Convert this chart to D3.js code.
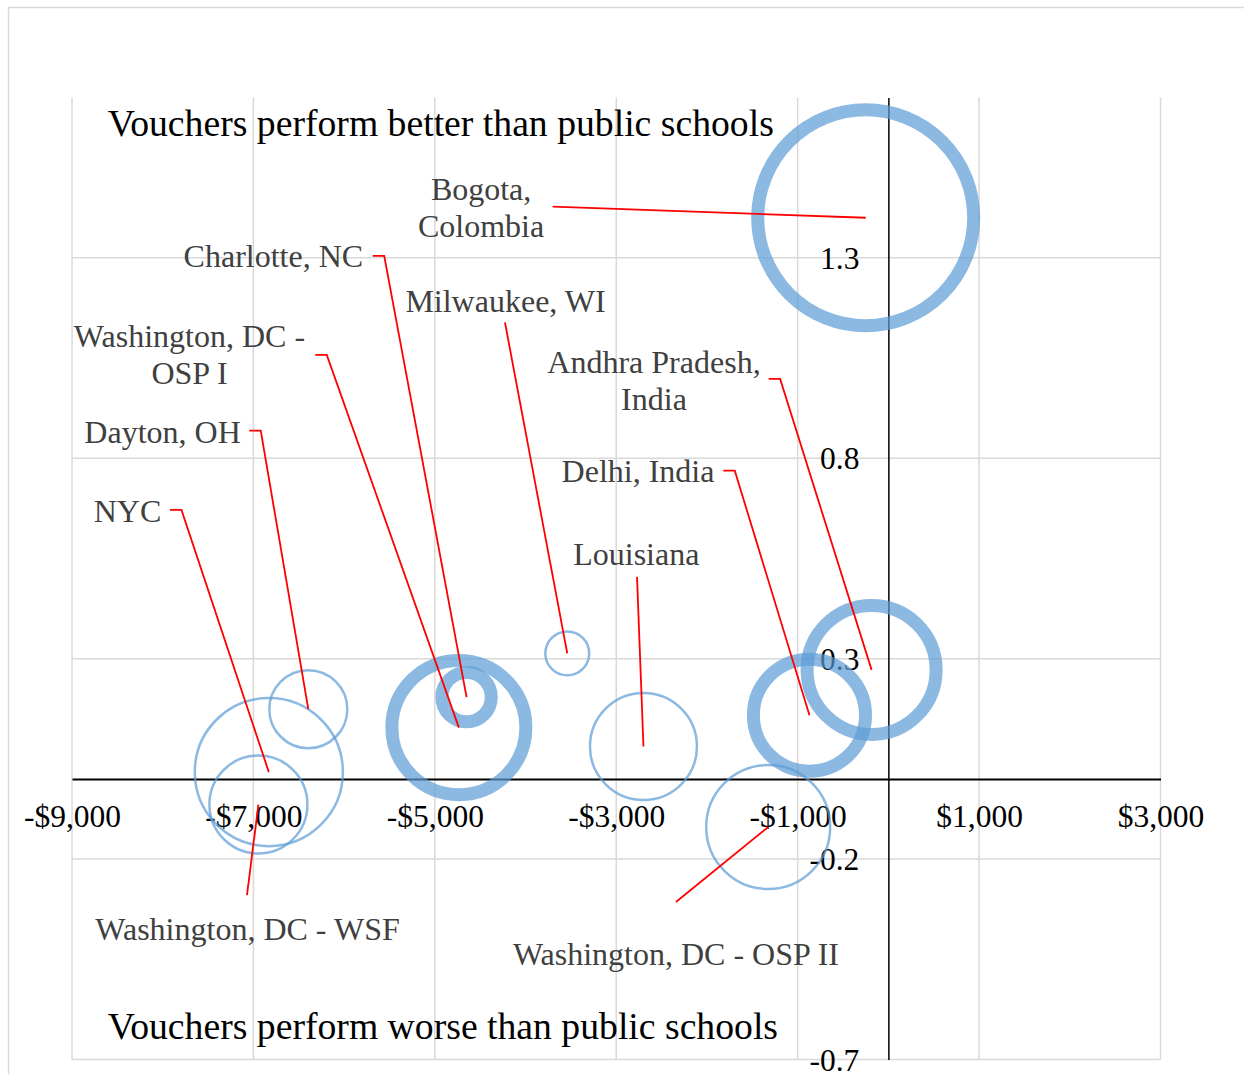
<!DOCTYPE html>
<html>
<head>
<meta charset="utf-8">
<script src="https://cdn.jsdelivr.net/npm/d3@7"></script>
<style>
body { margin: 0; background: #fff; }
</style>
</head>
<body>
<div id="chart"></div>
<script>
// voucher programs: cost difference per pupil vs effect
var sites = ["Bogota, Colombia", "Charlotte, NC", "Washington, DC - OSP I", "Milwaukee, WI",
             "Louisiana", "Delhi, India", "Andhra Pradesh, India", "Washington, DC - OSP II",
             "Dayton, OH", "NYC", "Washington, DC - WSF"];
var costDiff = [-250, -4650, -4735, -3540, -2700, -870, -185, -1325, -6395, -6830, -6945];
var effect = [1.40, 0.204, 0.128, 0.313, 0.081, 0.159, 0.272, -0.120, 0.174, 0.017, -0.064];
var bubbleSize = [116.6, 6.1, 44.9, 4.8, 28.6, 31.4, 41.6, 38.4, 15.2, 54.8, 24.0];
var thickRing = [true, true, true, false, false, true, true, false, false, false, false];

// data label text (line breaks as in the original)
var labelLines = [["Bogota,", "Colombia"], ["Charlotte, NC"], ["Washington, DC -", "OSP I"],
                  ["Milwaukee, WI"], ["Louisiana"], ["Delhi, India"], ["Andhra Pradesh,", "India"],
                  ["Washington, DC - OSP II"], ["Dayton, OH"], ["NYC"], ["Washington, DC - WSF"]];
// label anchor (center x, first baseline) and leader start, in axis units
var labelAt = [[-4490, 1.444], [-6780, 1.276], [-7705, 1.078], [-4221, 1.166], [-2779, 0.534],
               [-2760, 0.740], [-2584, 1.013], [-2342, -0.464], [-8002, 0.837], [-8388, 0.642], [-7065, -0.402]];
var leaderFrom = [[-3701, 1.428], [-5685, 1.305], [-6318, 1.058], [-4227, 1.139], [-2771, 0.504],
                  [-1820, 0.769], [-1320, 0.998], [-2342, -0.307], [-7046, 0.869], [-7920, 0.671], [-7071, -0.290]];
var leaderElbow = [false, true, true, false, false, true, true, false, true, true, false];

var xTicks = [-9000, -7000, -5000, -3000, -1000, 1000, 3000];
var yTicks = [-0.7, -0.2, 0.3, 0.8, 1.3];
var xDomain = [-9000, 3000];
var yDomain = [-0.7, 1.7];
var notes = [{text: "Vouchers perform better than public schools", x: -8605, y: 1.604},
             {text: "Vouchers perform worse than public schools", x: -8605, y: -0.649}];

var width = 1244, height = 1074;
var plot = {left: 72, right: 1160.5, top: 97.5, bottom: 1059.5};
var serif = "'Liberation Serif', 'Times New Roman', serif";

var svg = d3.select("#chart").append("svg")
    .attr("width", width)
    .attr("height", height)
    .style("display", "block");

// chart area border
svg.append("rect")
    .attr("x", 8.5).attr("y", 7.5)
    .attr("width", 1300).attr("height", 1200)
    .attr("fill", "#fff")
    .attr("stroke", "#d9d9d9")
    .attr("stroke-width", 1.5);

var x = d3.scaleLinear().domain(xDomain).range([plot.left, plot.right]);
var y = d3.scaleLinear().domain(yDomain).range([plot.bottom, plot.top]);
var r = d3.scaleSqrt().domain([0, d3.max(bubbleSize)]).range([0, 108]);

// gridlines
svg.append("g")
    .selectAll("line")
    .data(xTicks)
  .enter().append("line")
    .attr("x1", function(d) { return x(d); })
    .attr("x2", function(d) { return x(d); })
    .attr("y1", plot.top)
    .attr("y2", plot.bottom)
    .attr("stroke", "#d9d9d9")
    .attr("stroke-width", 1.5);

svg.append("g")
    .selectAll("line")
    .data(yTicks)
  .enter().append("line")
    .attr("x1", plot.left)
    .attr("x2", plot.right)
    .attr("y1", function(d) { return y(d); })
    .attr("y2", function(d) { return y(d); })
    .attr("stroke", "#d9d9d9")
    .attr("stroke-width", 1.5);

// axes cross at zero
var xAxis = d3.axisBottom(x)
    .tickValues(xTicks)
    .tickSize(0)
    .tickPadding(26)
    .tickFormat(function(d) { return (d < 0 ? "-$" : "$") + d3.format(",")(Math.abs(d)); });

var gx = svg.append("g")
    .attr("transform", "translate(0," + y(0) + ")")
    .attr("font-family", serif)
    .call(xAxis);
gx.select(".domain").attr("stroke", "#000").attr("stroke-width", 2);
gx.selectAll("text")
    .attr("fill", "#000")
    .style("font-family", serif)
    .style("font-size", "31.5px");

var yAxis = d3.axisLeft(y)
    .tickValues(yTicks)
    .tickSize(0)
    .tickPadding(29)
    .tickFormat(function(d) { return d3.format(".1f")(d).replace("\u2212", "-"); });

var gy = svg.append("g")
    .attr("transform", "translate(" + x(0) + ",0)")
    .attr("font-family", serif)
    .call(yAxis);
gy.select(".domain").attr("stroke", "#000").attr("stroke-width", 1.5);
gy.selectAll("text")
    .attr("fill", "#000")
    .attr("dy", "0.34em")
    .style("font-family", serif)
    .style("font-size", "31.5px");

// bubbles as open rings
var rows = sites.map(function(s, i) {
  return {name: s, cost: costDiff[i], eff: effect[i], size: bubbleSize[i], thick: thickRing[i],
          lines: labelLines[i], at: labelAt[i], from: leaderFrom[i], elbow: leaderElbow[i]};
});

svg.append("g")
    .selectAll("circle")
    .data(rows)
  .enter().append("circle")
    .attr("cx", function(d) { return x(d.cost); })
    .attr("cy", function(d) { return y(d.eff); })
    .attr("r", function(d) { return r(d.size); })
    .attr("fill", "none")
    .attr("stroke", "#5b9bd5")
    .attr("stroke-opacity", 0.7)
    .attr("stroke-width", function(d) { return d.thick ? 13 : 2.5; });

// leader lines
svg.append("g")
    .selectAll("polyline")
    .data(rows)
  .enter().append("polyline")
    .attr("points", function(d) {
      var pts = [[x(d.from[0]), y(d.from[1])]];
      if (d.elbow) pts.push([x(d.from[0]) + 11.5, y(d.from[1])]);
      pts.push([x(d.cost), y(d.eff)]);
      return pts.map(function(p) { return p.join(","); }).join(" ");
    })
    .attr("fill", "none")
    .attr("stroke", "#ff0000")
    .attr("stroke-width", 1.8);

// data labels
var labels = svg.append("g")
    .selectAll("text")
    .data(rows)
  .enter().append("text")
    .attr("x", function(d) { return x(d.at[0]); })
    .attr("y", function(d) { return y(d.at[1]); })
    .attr("text-anchor", "middle")
    .attr("fill", "#404040")
    .style("font-family", serif)
    .style("font-size", "32px");

labels.selectAll("tspan")
    .data(function(d) { return d.lines.map(function(l) { return {t: l, x: x(d.at[0])}; }); })
  .enter().append("tspan")
    .attr("x", function(d) { return d.x; })
    .attr("dy", function(d, i) { return i ? "1.16em" : 0; })
    .text(function(d) { return d.t; });

// quadrant notes
svg.append("g")
    .selectAll("text")
    .data(notes)
  .enter().append("text")
    .attr("x", function(d) { return x(d.x); })
    .attr("y", function(d) { return y(d.y); })
    .attr("fill", "#000")
    .style("font-family", serif)
    .style("font-size", "37.7px")
    .text(function(d) { return d.text; });
</script>
</body>
</html>
